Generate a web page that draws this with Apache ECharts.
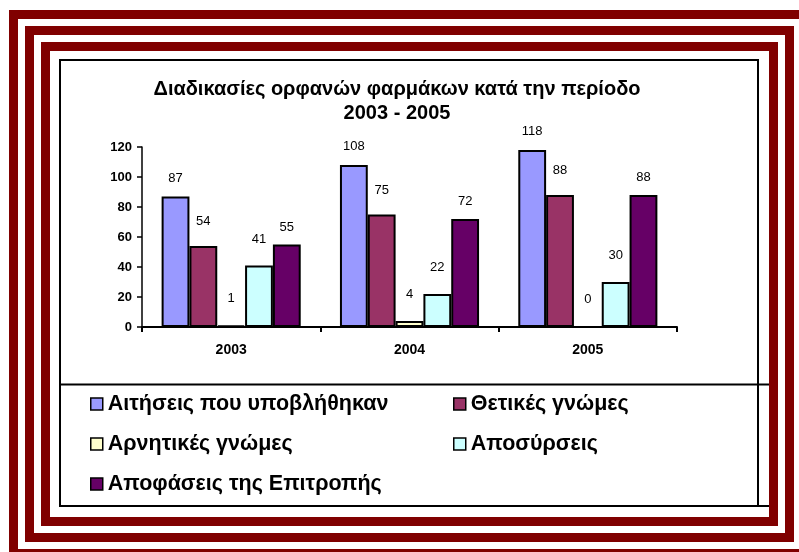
<!DOCTYPE html>
<html>
<head>
<meta charset="utf-8">
<script src="https://cdn.jsdelivr.net/npm/echarts@6/dist/echarts.min.js"></script>
<style>
  html, body { margin: 0; padding: 0; background: #fff; }
  #chart { width: 799px; height: 552px; }
</style>
</head>
<body>
<div id="chart"></div>
<script>
// Orphan medicinal product procedures per year
const years = ['2003', '2004', '2005'];
const seriesNames = [
  'Αιτήσεις που υποβλήθηκαν',
  'Θετικές γνώμες',
  'Αρνητικές γνώμες',
  'Αποσύρσεις',
  'Αποφάσεις της Επιτροπής'
];
const applications = [87, 108, 118];
const positiveOpinions = [54, 75, 88];
const negativeOpinions = [1, 4, 0];
const withdrawals = [41, 22, 30];
const decisions = [55, 72, 88];
const yTicks = [0, 20, 40, 60, 80, 100, 120];

const seriesValues = [applications, positiveOpinions, negativeOpinions, withdrawals, decisions];
const seriesColors = ['#9999FF', '#993366', '#FFFFCC', '#CCFFFF', '#660066'];
const labelLift = [12, 18, 20, 20, 11];

const FONT = '"Liberation Sans", Arial, sans-serif';
const RED = '#800000';

const chart = echarts.init(document.getElementById('chart'), null, { renderer: 'canvas' });

// Decorative triple frame and the chart/legend boxes
const frame = [];
const bands = [
  [9, 10, 810, 558],
  [25, 26, 794, 542],
  [41, 42, 778, 526]
];
bands.forEach(function (b) {
  frame.push({ type: 'rect', shape: { x: b[0], y: b[1], width: b[2] - b[0], height: b[3] - b[1] },
    style: { fill: RED }, silent: true, z: -10 });
  frame.push({ type: 'rect', shape: { x: b[0] + 9, y: b[1] + 9, width: b[2] - b[0] - 18, height: b[3] - b[1] - 18 },
    style: { fill: '#ffffff' }, silent: true, z: -10 });
});
frame.push({ type: 'rect', shape: { x: 60, y: 60, width: 698, height: 446 },
  style: { fill: null, stroke: '#000', lineWidth: 2 }, silent: true, z: -5 });
frame.push({ type: 'line', shape: { x1: 60, y1: 384.5, x2: 769, y2: 384.5 },
  style: { stroke: '#000', lineWidth: 2 }, silent: true, z: -5 });
frame.push({ type: 'line', shape: { x1: 758, y1: 506, x2: 769, y2: 506 },
  style: { stroke: '#000', lineWidth: 2 }, silent: true, z: -5 });

const series = seriesNames.map(function (name, i) {
  return {
    name: name,
    type: 'bar',
    data: seriesValues[i],
    barGap: '0%',
    barCategoryGap: '22%',
    itemStyle: { color: seriesColors[i], borderColor: '#000', borderWidth: 2 },
    label: {
      show: true,
      position: 'top',
      distance: labelLift[i],
      color: '#000',
      fontFamily: FONT,
      fontSize: 13
    },
    emphasis: { disabled: true },
    animation: false
  };
});

const legendBase = {
  orient: 'vertical',
  top: 393,
  padding: 0,
  itemGap: 18,
  itemWidth: 12,
  itemHeight: 12,
  itemTextGap: 1,
  icon: 'rect',
  selectedMode: false,
  itemStyle: { borderColor: '#000', borderWidth: 1.5 },
  textStyle: { color: '#000', fontFamily: FONT, fontWeight: 'bold', fontSize: 21.5, lineHeight: 22 }
};

chart.setOption({
  backgroundColor: '#ffffff',
  animation: false,
  title: {
    text: 'Διαδικασίες ορφανών φαρμάκων κατά την περίοδο\n2003 - 2005',
    left: 397,
    top: 77,
    padding: 0,
    textAlign: 'center',
    textStyle: { color: '#000', fontFamily: FONT, fontWeight: 'bold', fontSize: 20, lineHeight: 24 }
  },
  graphic: frame,
  legend: [
    Object.assign({}, legendBase, { left: 90, data: [seriesNames[0], seriesNames[2], seriesNames[4]] }),
    Object.assign({}, legendBase, { left: 453, data: [seriesNames[1], seriesNames[3]] })
  ],
  grid: { left: 142, right: 122, top: 147, bottom: 225, containLabel: false },
  xAxis: {
    type: 'category',
    data: years,
    axisLine: { lineStyle: { color: '#000', width: 2 } },
    axisTick: { show: true, length: 5, lineStyle: { color: '#000', width: 2 } },
    axisLabel: { color: '#000', fontFamily: FONT, fontWeight: 'bold', fontSize: 14, margin: 16 }
  },
  yAxis: {
    type: 'value',
    min: yTicks[0],
    max: yTicks[yTicks.length - 1],
    interval: yTicks[1] - yTicks[0],
    axisLine: { show: true, lineStyle: { color: '#000', width: 1.5 } },
    axisTick: { show: true, length: 5, lineStyle: { color: '#000', width: 1.5 } },
    splitLine: { show: false },
    axisLabel: { color: '#000', fontFamily: FONT, fontWeight: 'bold', fontSize: 13, margin: 10 }
  },
  series: series
});
</script>
</body>
</html>
